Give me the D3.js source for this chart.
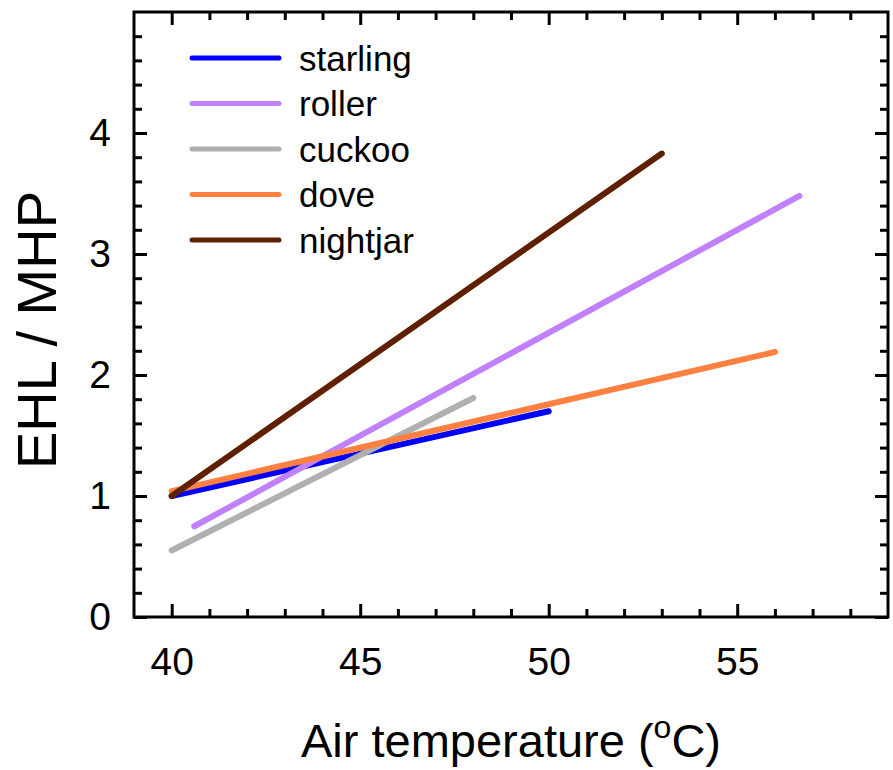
<!DOCTYPE html>
<html>
<head>
<meta charset="utf-8">
<script src="https://cdn.jsdelivr.net/npm/d3@7"></script>
<style>
    body { margin: 0; background: #fff; }
    svg text { font-family: Arial, "Liberation Sans", sans-serif; fill: #000; }
    .axis path { display: none; }
    .axis line { stroke: #000; stroke-width: 3; }
    .axis text { font-size: 39px; font-family: Arial, "Liberation Sans", sans-serif; }
</style>
</head>
<body>
<div id="chart"></div>
<script>
// species and their fitted line endpoints
var species = ['starling', 'roller', 'cuckoo', 'dove', 'nightjar'];
var colors = ['#0000ff', '#c080ff', '#b0b0b0', '#ff8040', '#602000'];
var startX = [40, 40.6, 40, 40, 40];
var startY = [1.0, 0.75, 0.55, 1.04, 1.0];
var endX = [50, 56.65, 48, 56, 53];
var endY = [1.7, 3.48, 1.81, 2.19, 3.83];

var xMajorTicks = [40, 45, 50, 55];
var yMajorTicks = [0, 1, 2, 3, 4];

var width = 893, height = 770;
var margin = {top: 12, right: 5, bottom: 153, left: 134};
var chartWidth = width - margin.left - margin.right;
var chartHeight = height - margin.top - margin.bottom;

var svg = d3.select('#chart').append('svg')
    .attr('width', width)
    .attr('height', height);

var panel = svg.append('g')
    .attr('transform', 'translate(' + margin.left + ',' + margin.top + ')');

var scaleX = d3.scaleLinear().domain([39, 59]).range([0, chartWidth]);
var scaleY = d3.scaleLinear().domain([0, 5]).range([chartHeight, 0]);

var xMinor = d3.range(40, 59, 1).filter(function(d){ return d % 5 !== 0; });
var yMinor = d3.range(1, 25).map(function(d){ return d * 0.2; })
    .filter(function(d){ return Math.abs(d - Math.round(d)) > 1e-6; });

// inward ticks on all four sides
function addAxis(axis, tx, ty) {
    return panel.append('g')
        .attr('class', 'axis')
        .attr('transform', 'translate(' + tx + ',' + ty + ')')
        .call(axis)
        .attr('font-size', null)
        .attr('font-family', null);
}
addAxis(d3.axisBottom(scaleX).tickValues(xMajorTicks).tickSize(-13).tickPadding(30).tickFormat(d3.format('d')), 0, chartHeight);
addAxis(d3.axisBottom(scaleX).tickValues(xMinor).tickSize(-8).tickFormat(''), 0, chartHeight);
addAxis(d3.axisTop(scaleX).tickValues(xMajorTicks).tickSize(-13).tickFormat(''), 0, 0);
addAxis(d3.axisTop(scaleX).tickValues(xMinor).tickSize(-8).tickFormat(''), 0, 0);
addAxis(d3.axisLeft(scaleY).tickValues(yMajorTicks).tickSize(-13).tickPadding(23).tickFormat(d3.format('d')), 0, 0);
addAxis(d3.axisLeft(scaleY).tickValues(yMinor).tickSize(-8).tickFormat(''), 0, 0);
addAxis(d3.axisRight(scaleY).tickValues(yMajorTicks).tickSize(-13).tickFormat(''), chartWidth, 0);
addAxis(d3.axisRight(scaleY).tickValues(yMinor).tickSize(-8).tickFormat(''), chartWidth, 0);

// data lines
var lineData = species.map(function(name, i){
    return {name: name, color: colors[i], pts: [[startX[i], startY[i]], [endX[i], endY[i]]]};
});
var line = d3.line()
    .x(function(d){ return scaleX(d[0]); })
    .y(function(d){ return scaleY(d[1]); });

panel.selectAll('path.series')
    .data(lineData)
    .enter().append('path')
    .attr('class', 'series')
    .attr('d', function(d){ return line(d.pts); })
    .style('fill', 'none')
    .style('stroke', function(d){ return d.color; })
    .style('stroke-width', 6)
    .style('stroke-linecap', 'round');

// frame
panel.append('rect')
    .attr('width', chartWidth)
    .attr('height', chartHeight)
    .style('fill', 'none')
    .style('stroke', '#000')
    .style('stroke-width', 3);

// legend
var legend = svg.selectAll('g.legend')
    .data(lineData)
    .enter().append('g')
    .attr('class', 'legend')
    .attr('transform', function(d, i){ return 'translate(192,' + (58 + i * 45.5) + ')'; });
legend.append('line')
    .attr('x1', 0).attr('x2', 87)
    .style('stroke', function(d){ return d.color; })
    .style('stroke-width', 5)
    .style('stroke-linecap', 'round');
legend.append('text')
    .attr('x', 107)
    .attr('dy', '0.36em')
    .style('font-size', '35px')
    .text(function(d){ return d.name; });

// axis titles
var xTitle = svg.append('text')
    .attr('x', 511)
    .attr('y', 757)
    .attr('text-anchor', 'middle')
    .style('font-size', '47px');
xTitle.append('tspan').text('Air temperature (');
xTitle.append('tspan').attr('dy', -19).style('font-size', '32px').text('o');
xTitle.append('tspan').attr('dy', 19).text('C)');

svg.append('text')
    .attr('transform', 'translate(56,330) rotate(-90)')
    .attr('text-anchor', 'middle')
    .style('font-size', '56px')
    .text('EHL / MHP');
</script>
</body>
</html>
